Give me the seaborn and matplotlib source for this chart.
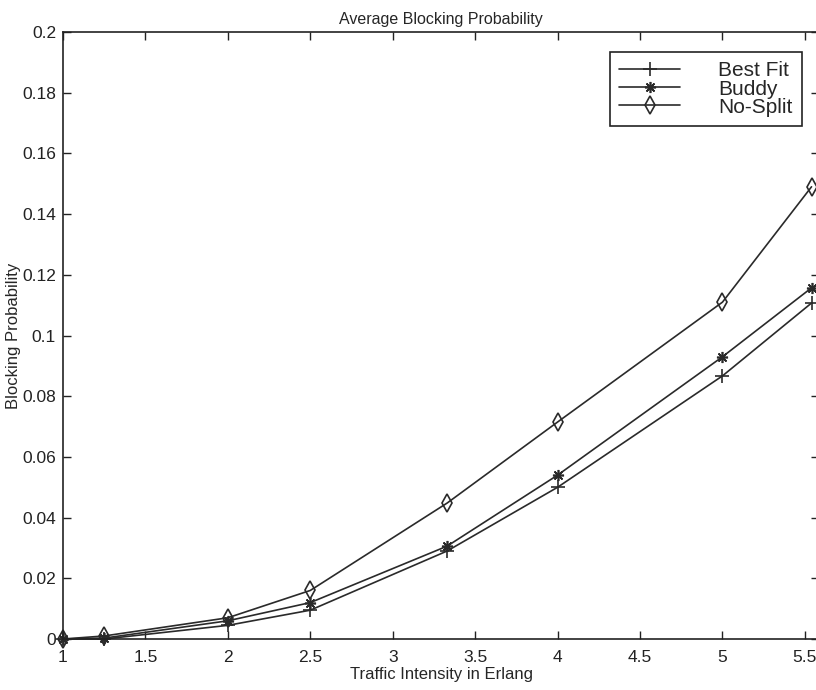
#!/usr/bin/env python3
"""Average blocking probability vs traffic intensity (Best Fit / Buddy / No-Split)."""
import matplotlib

matplotlib.use("Agg")
import matplotlib.pyplot as plt
import pandas as pd
import seaborn as sns
from matplotlib.ticker import FuncFormatter, MultipleLocator

TRAFFIC = [1.0, 1.25, 2.0, 2.5, 3.33, 4.0, 5.0, 5.54]
BEST_FIT = [0.0, 0.0, 0.0045, 0.0095, 0.029, 0.050, 0.0867, 0.1107]
BUDDY = [0.0, 0.0003, 0.006, 0.012, 0.0306, 0.054, 0.093, 0.1157]
NO_SPLIT = [0.0, 0.001, 0.007, 0.016, 0.0448, 0.0715, 0.111, 0.149]
SERIES = ["Best Fit", "Buddy", "No-Split"]


def main() -> None:
    sns.set_style("ticks")
    plt.rcParams["font.family"] = ["Liberation Sans", "DejaVu Sans"]

    df = pd.DataFrame(
        {
            "x": TRAFFIC * 3,
            "y": BEST_FIT + BUDDY + NO_SPLIT,
            "method": [s for s in SERIES for _ in TRAFFIC],
        }
    )

    fig = plt.figure(figsize=(8.16, 6.9), dpi=100)
    ax = fig.add_axes([0.0772, 0.0739, 0.927, 0.8797])

    ink = "#2a2a2a"
    # MATLAB-ish markers: plus, 8-spoke asterisk, open diamond
    markers = {"Best Fit": "+", "Buddy": (8, 2, 0), "No-Split": "d"}
    sizes = {"Best Fit": 10, "Buddy": 8, "No-Split": 9}
    for name in SERIES:
        sub = df[df["method"] == name]
        sns.lineplot(
            data=sub,
            x="x",
            y="y",
            ax=ax,
            color=ink,
            linewidth=1.2,
            marker=markers[name],
            markersize=sizes[name],
            markerfacecolor="none" if name == "No-Split" else ink,
            markeredgecolor=ink,
            markeredgewidth=1.2,
            clip_on=False,
            label=name,
        )

    ax.set_xlim(1, 5.588)
    ax.set_ylim(0, 0.2)
    ax.xaxis.set_major_locator(MultipleLocator(0.5))
    ax.yaxis.set_major_locator(MultipleLocator(0.02))
    ax.yaxis.set_major_formatter(FuncFormatter(lambda v, _: f"{v:.10g}" if abs(v) > 1e-9 else "0"))
    ax.xaxis.set_major_formatter(FuncFormatter(lambda v, _: f"{v:g}"))
    ax.tick_params(direction="in", length=6, width=1, top=True, right=True,
                   labelsize=12.5, colors="#222222")
    ax.tick_params(axis="x", pad=8)
    ax.tick_params(axis="y", pad=5)
    for sp in ax.spines.values():
        sp.set_visible(True)
        sp.set_linewidth(1.2)
        sp.set_color("#222222")

    ax.set_xlabel("Traffic Intensity in Erlang", fontsize=12, labelpad=1)
    ax.set_ylabel("Blocking Probability", fontsize=12, labelpad=1)
    ax.set_title("Average Blocking Probability", fontsize=11.5, pad=6)

    leg = ax.legend(
        loc="upper right",
        bbox_to_anchor=(0.983, 0.9246),
        bbox_transform=fig.transFigure,
        borderaxespad=0,
        fontsize=15,
        handlelength=2.9,
        handletextpad=1.85,
        labelspacing=-0.04,
        borderpad=0.45,
        fancybox=False,
        framealpha=1,
        edgecolor="#222222",
    )
    leg.get_frame().set_linewidth(1.2)

    fig.savefig("out.png", dpi=100, facecolor="white")


if __name__ == "__main__":
    main()
